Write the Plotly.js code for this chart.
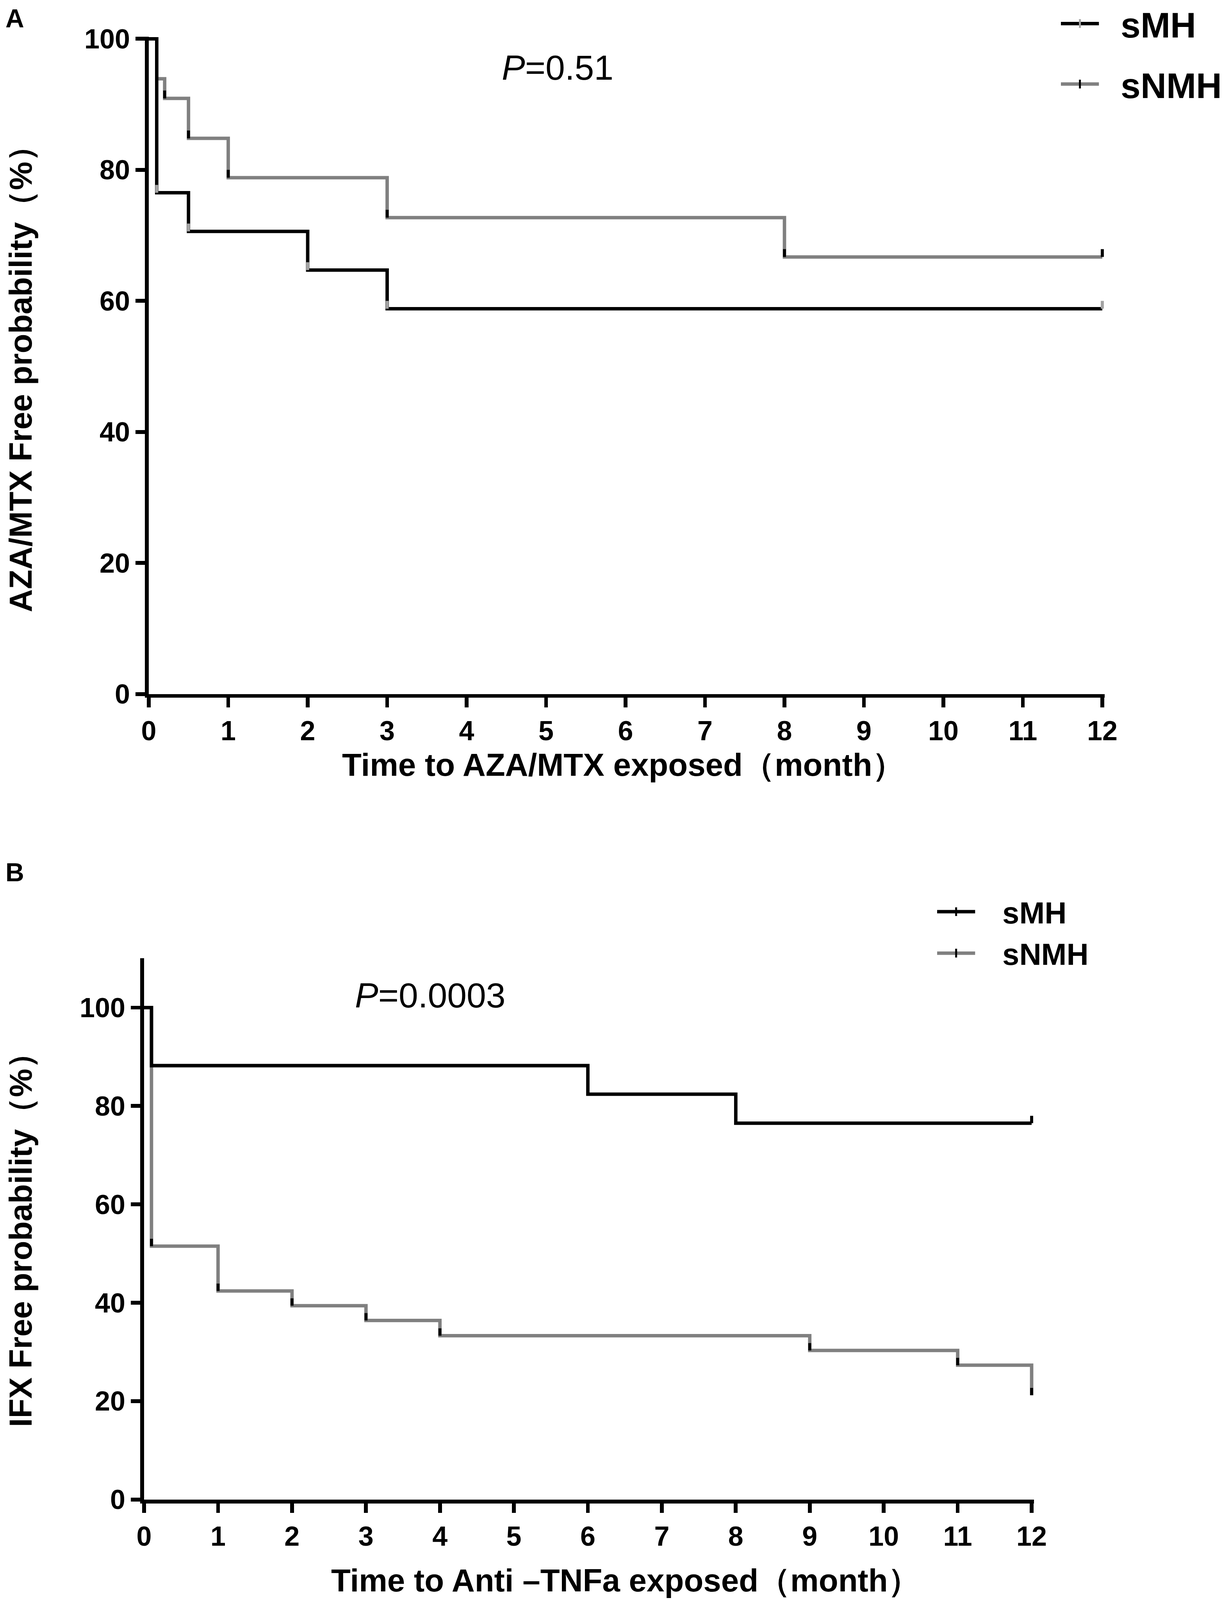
<!DOCTYPE html>
<html>
<head>
<meta charset="utf-8">
<script src="https://cdn.plot.ly/plotly-3.0.1.min.js"></script>
<style>
  html, body { margin: 0; padding: 0; background: #fff; overflow: hidden; }
</style>
</head>
<body>
<div id="chart"></div>
<script>
// Panel A: AZA/MTX free probability (Kaplan-Meier steps, %)
const aMonthsMH = [0, 0.1, 0.5, 2, 3, 12];
const aSurvMH = [100, 76.5, 70.6, 64.7, 58.8, 58.8];
const aMonthsNMH = [0, 0.1, 0.2, 0.5, 1, 3, 8, 12];
const aSurvNMH = [100, 93.9, 90.9, 84.8, 78.8, 72.7, 66.7, 66.7];
// censor marks, drawn at the foot of each step
const aCensorMonthsMH = [0.1, 0.5, 2, 3, 12];
const aCensorSurvMH = [76.5, 70.6, 64.7, 58.8, 58.8];
const aCensorMonthsNMH = [0.2, 0.5, 1, 3, 8, 12];
const aCensorSurvNMH = [90.9, 84.8, 78.8, 72.7, 66.7, 66.7];

// Panel B: IFX free probability
const bMonthsMH = [0, 0.1, 6, 8, 12];
const bSurvMH = [100, 88.2, 82.4, 76.5, 76.5];
const bMonthsNMH = [0, 0.1, 1, 2, 3, 4, 9, 11, 12];
const bSurvNMH = [100, 51.5, 42.4, 39.4, 36.4, 33.3, 30.3, 27.3, 21.2];
const bCensorMonthsMH = [12];
const bCensorSurvMH = [76.5];
const bCensorMonthsNMH = [0.1, 1, 2, 3, 4, 9, 11, 12];
const bCensorSurvNMH = [51.5, 42.4, 39.4, 36.4, 33.3, 30.3, 27.3, 21.2];

const monthTicks = [0, 1, 2, 3, 4, 5, 6, 7, 8, 9, 10, 11, 12];
const pctTicks = [0, 20, 40, 60, 80, 100];
const groupNames = ["sMH", "sNMH"];
const pValues = ["0.51", "0.0003"];

const BLACK = "#000000";
const GREY = "#808080";
const LIGHT_GREY = "#a3a3a3";
const FONT = "Liberation Sans, Arial, Helvetica, sans-serif";

// design space is the 3150 x 4332 reference; stretch it over the window we get
const REF_W = 3150, REF_H = 4332;
const VIEW_W = window.innerWidth || REF_W;
const VIEW_H = window.innerHeight || REF_H;
const SX = VIEW_W / REF_W, SY = VIEW_H / REF_H;
const SF = (SX + SY) / 2;
const px = (v) => v * SF;

// where the axes sit in the reference, in reference pixels
const A_BOX = { x0: 381, x12: 2823, y0: 1879, y100: 105 };
const B_BOX = { x0: 369, x12: 2642, y0: 4060, y100: 2728 };
const X_HI = 12.03;

function xDomain(box) {
  const perMonth = (box.x12 - box.x0) / 12;
  return [box.x0 / REF_W, (box.x0 + X_HI * perMonth) / REF_W];
}
function yDomain(box, top) {
  const perPct = (box.y0 - box.y100) / 100;
  return [1 - box.y0 / REF_H, 1 - (box.y0 - top * perPct) / REF_H];
}

function stepTrace(x, y, color, xa, ya) {
  return {
    x, y, xaxis: xa, yaxis: ya, type: "scatter", mode: "lines",
    line: { color, width: px(9), shape: "hv" },
    showlegend: false, hoverinfo: "skip",
  };
}

function censorTrace(x, y, color, tickLen, xa, ya) {
  return {
    x, y, xaxis: xa, yaxis: ya, type: "scatter", mode: "markers",
    marker: { size: 0.1, color: "rgba(0,0,0,0)" },
    error_y: {
      type: "data", symmetric: false,
      array: x.map(() => tickLen), arrayminus: x.map(() => 0),
      width: 0, thickness: px(8), color,
    },
    cliponaxis: false, showlegend: false, hoverinfo: "skip",
  };
}

function legendEntry(name, lineColor, tickColor, legendId, gap) {
  return {
    x: [null], y: [null], type: "scatter", mode: "lines+markers",
    name: "\u00a0".repeat(gap) + name,
    legend: legendId, legendgroup: legendId + name,
    line: { color: lineColor, width: px(9) },
    marker: { symbol: "line-ns", size: px(18), line: { color: tickColor, width: px(6) } },
  };
}

const traces = [
  stepTrace(aMonthsNMH, aSurvNMH, GREY, "x", "y"),
  stepTrace(aMonthsMH, aSurvMH, BLACK, "x", "y"),
  censorTrace(aCensorMonthsNMH, aCensorSurvNMH, BLACK, 1.2, "x", "y"),
  censorTrace(aCensorMonthsMH, aCensorSurvMH, LIGHT_GREY, 1.2, "x", "y"),
  stepTrace(bMonthsNMH, bSurvNMH, GREY, "x2", "y2"),
  stepTrace(bMonthsMH, bSurvMH, BLACK, "x2", "y2"),
  censorTrace(bCensorMonthsNMH, bCensorSurvNMH, BLACK, 1.5, "x2", "y2"),
  censorTrace(bCensorMonthsMH, bCensorSurvMH, BLACK, 1.5, "x2", "y2"),
  legendEntry(groupNames[0], BLACK, LIGHT_GREY, "legend", 2),
  legendEntry(groupNames[1], GREY, BLACK, "legend", 2),
  legendEntry(groupNames[0], BLACK, BLACK, "legend2", 3),
  legendEntry(groupNames[1], GREY, BLACK, "legend2", 3),
];

function axisStyle(extra) {
  return Object.assign({
    showline: true, linecolor: BLACK, linewidth: px(10),
    ticks: "outside", ticklen: px(25), tickwidth: px(10), tickcolor: BLACK,
    tickfont: { family: FONT, size: px(72), color: BLACK, weight: "bold" },
    showgrid: false, zeroline: false, fixedrange: true,
  }, extra);
}

function note(text, x, y, size, weight, extra) {
  return Object.assign({
    text, x: x / REF_W, y: 1 - y / REF_H, xref: "paper", yref: "paper",
    showarrow: false, xanchor: "center", yanchor: "middle",
    font: { family: FONT, size: px(size), color: BLACK, weight },
  }, extra);
}

function legendStyle(x, y, size, rowGap) {
  return {
    x: x / REF_W, xanchor: "left", y: 1 - y / REF_H, yanchor: "top",
    font: { family: FONT, size: px(size), color: BLACK, weight: "bold" },
    bgcolor: "rgba(0,0,0,0)", borderwidth: 0,
    itemwidth: px(100), tracegroupgap: px(rowGap),
  };
}

const layout = {
  width: VIEW_W, height: VIEW_H,
  // legend A hugs the top edge; keep it from pushing the margins
  margin: { l: 0, r: 0, t: 0, b: 0, pad: 0, autoexpand: false },
  paper_bgcolor: "#ffffff", plot_bgcolor: "#ffffff",
  font: { family: FONT, color: BLACK },
  showlegend: true,
  xaxis: axisStyle({ domain: xDomain(A_BOX), range: [0, X_HI], tickvals: monthTicks, anchor: "y" }),
  yaxis: axisStyle({ domain: yDomain(A_BOX, 100.3), range: [0, 100.3], tickvals: pctTicks, anchor: "x" }),
  xaxis2: axisStyle({ domain: xDomain(B_BOX), range: [0, X_HI], tickvals: monthTicks, anchor: "y2" }),
  yaxis2: axisStyle({ domain: yDomain(B_BOX, 110), range: [0, 110], tickvals: pctTicks, anchor: "x2" }),
  legend: legendStyle(2712, -6, 94, 34),
  legend2: legendStyle(2395, 2408, 80, 2),
  annotations: [
    note("A", 38, 50, 68, "bold"),
    note("B", 38, 2362, 68, "bold"),
    note("<i>P</i>=" + pValues[0], 1428, 183, 92, "normal"),
    note("<i>P</i>=" + pValues[1], 1102, 2695, 92, "normal"),
    note("Time to AZA/MTX exposed（month）", 1596, 2070, 84, "bold"),
    note("AZA/MTX Free probability（%）", 52, 1005, 84, "bold", { textangle: -90 }),
    note("Time to Anti –TNFa exposed（month）", 1602, 4279, 84, "bold"),
    note("IFX Free probability（%）", 52, 3336, 84, "bold", { textangle: -90 }),
  ],
};

Plotly.newPlot("chart", traces, layout, { displayModeBar: false, staticPlot: true });
</script>
</body>
</html>
